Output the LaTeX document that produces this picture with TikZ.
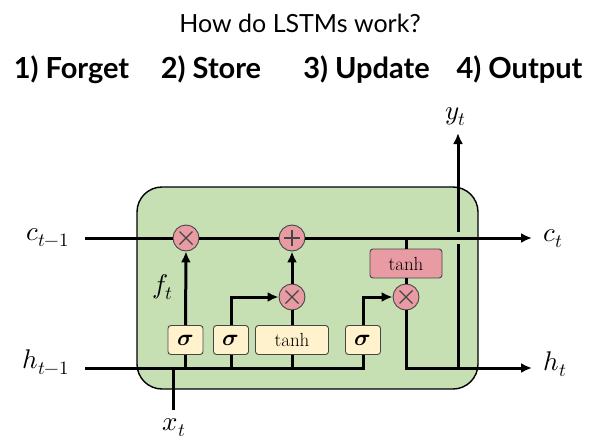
\documentclass[tikz,border=0pt]{standalone}
\usepackage{amsmath}
\usepackage{fontspec}
\usepackage{unicode-math}
\setmathfont{Latin Modern Math}
\newfontfamily\headfont{Lato}
\usetikzlibrary{arrows.meta,positioning}
\definecolor{cellgreen}{RGB}{198,224,180}
\definecolor{gateyellow}{RGB}{255,242,204}
\definecolor{oppink}{RGB}{233,155,163}
\definecolor{edgegray}{RGB}{70,70,70}

\begin{document}
\begin{tikzpicture}[x=1pt,y=-1pt,>={Latex[length=11pt,width=10pt]},line width=3pt]
  \tikzstyle{cell}=[rectangle,draw=black,line width=1.4pt,fill=cellgreen,
                    rounded corners=25pt,minimum width=341pt,minimum height=202pt]
  \tikzstyle{gate}=[rectangle,draw=edgegray,line width=0.9pt,fill=gateyellow,
                    rounded corners=3pt,minimum width=35pt,minimum height=29pt,
                    inner sep=0pt,font=\fontsize{19}{22}\selectfont]
  \tikzstyle{sig}=[gate,font=\fontsize{23}{26}\selectfont]
  \tikzstyle{op}=[circle,draw=edgegray,line width=0.9pt,fill=oppink,
                  minimum size=26pt,inner sep=0pt]
  \tikzstyle{mult}=[op,path picture={\draw[line width=1.4pt]
      (path picture bounding box.center) ++(-6.5,-6.5) -- ++(13,13)
      (path picture bounding box.center) ++(-6.5,6.5) -- ++(13,-13);}]
  \tikzstyle{plus}=[op,path picture={\draw[line width=1.4pt]
      (path picture bounding box.center) ++(-8,0) -- ++(16,0)
      (path picture bounding box.center) ++(0,-8) -- ++(0,16);}]
  \tikzstyle{lbl}=[inner sep=0pt,font=\fontsize{27}{31}\selectfont]
  \tikzstyle{stepname}=[anchor=base,font=\headfont\bfseries\fontsize{29}{33}\selectfont]

  \useasboundingbox (0,0) rectangle (600,447);

  % headings
  \node[anchor=base,font=\headfont\fontsize{25}{29}\selectfont] (title) at (300,32)
      {How do LSTMs work?};
  \node[stepname] (s1) at (71.5,78) {1) Forget};
  \node[stepname] (s2) at (211,78) {2) Store};
  \node[stepname] (s3) at (366.5,78) {3) Update};
  \node[stepname] (s4) at (519.5,78) {4) Output};

  % cell body
  \node[cell] (body) at (307.5,288) {};

  % gates
  \node[sig] (sf) at (185.5,340) {$\symbfit{\sigma}$};
  \node[sig] (si) at (231,340) {$\symbfit{\sigma}$};
  \node[gate,minimum width=73pt] (tc) at (292,340) {tanh};
  \node[sig] (so) at (363,340) {$\symbfit{\sigma}$};
  \node[gate,fill=oppink,minimum width=72pt] (to) at (406,263.5) {tanh};

  % pointwise operations
  \node[mult] (mf) at (186,238) {};
  \node[plus] (ad) at (292,238) {};
  \node[mult] (mi) at (292,297) {};
  \node[mult] (mo) at (406,297) {};

  % labels
  \node[lbl,anchor=base east] (cprev) at (71,240) {$c_{t-1}$};
  \node[lbl,anchor=base east] (hprev) at (71,368) {$h_{t-1}$};
  \node[lbl,anchor=base west] (ct) at (542,241) {$c_t$};
  \node[lbl,anchor=base west] (ht) at (542,370) {$h_t$};
  \node[lbl,anchor=base] (xt) at (174,430) {$x_t$};
  \node[lbl,anchor=base] (yt) at (456,119) {$y_t$};
  \node[lbl,anchor=base] (ft) at (163,293) {$f_t$};

  \coordinate (cin) at (85,238);
  \coordinate (cend) at (532,238);
  \coordinate (hin) at (85,368);
  \coordinate (hend) at (532,368);
  \coordinate (hbus) at (363,368);
  \coordinate (xlow) at (173,410);
  \coordinate (tap) at (406,238);
  \coordinate (ylow) at (458,368);
  \coordinate (ygap) at (458,244);
  \coordinate (yup) at (458,232);
  \coordinate (ytip) at (458,133);

  % cell state
  \draw (cin) -- (mf);
  \draw (mf) -- (ad);
  \draw[->] (ad) -- (cend);

  % hidden state and input bus
  \draw (hin) -- (hbus) -- (so.south);
  \draw (xlow) -- (xlow |- hbus);
  \draw (sf.south |- hbus) -- (sf.south);
  \draw (si.south |- hbus) -- (si.south);
  \draw (tc.south |- hbus) -- (tc.south);

  % forget and store
  \draw[->] (sf) -- (mf);
  \draw[->] (si.north) |- (mi);
  \draw (tc) -- (mi);
  \draw[->] (mi) -- (ad);

  % output
  \draw (tap) -- (to);
  \draw (to) -- (mo);
  \draw[->] (so.north) |- (mo);
  \draw[->] (mo) |- (hend);
  \draw (ylow) -- (ygap);
  \draw[->] (yup) -- (ytip);
\end{tikzpicture}
\end{document}
